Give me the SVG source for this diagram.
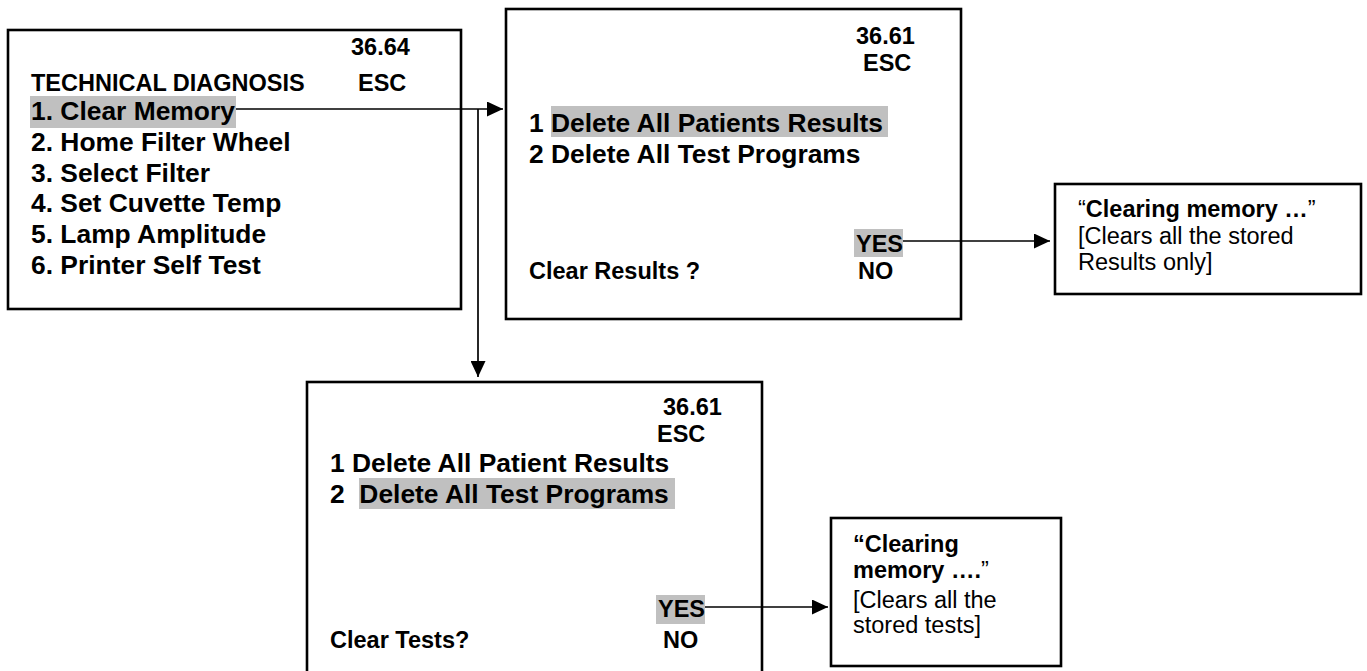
<svg xmlns="http://www.w3.org/2000/svg" width="1367" height="671" viewBox="0 0 1367 671">
  <style>
    .box { fill: #ffffff; stroke: #000000; stroke-width: 2.6; }
    .hl { fill: #c0c0c0; stroke: none; }
    .t { font-family: "Liberation Sans", Arial, Helvetica, sans-serif; fill: #000000; }
    .b { font-weight: bold; }
    .item { font-size: 26.4px; }
    .small { font-size: 23.5px; }
    .link { fill: none; stroke: #000000; stroke-width: 1.7; }
  </style>
  <defs>
    <marker id="arrow" viewBox="0 0 16 15" refX="16" refY="7.5" markerWidth="16" markerHeight="15" markerUnits="userSpaceOnUse" orient="auto">
      <path d="M0,0 L16,7.5 L0,15 Z" fill="#000000"/>
    </marker>
  </defs>

  <rect width="1367" height="671" fill="#ffffff"/>

  <!-- Main menu -->
  <g id="menu-technical-diagnosis">
    <rect class="box" x="8" y="30" width="453" height="279"/>
    <rect class="hl" x="30" y="96" width="206" height="32"/>
    <text class="t b small" x="351" y="55">36.64</text>
    <text class="t b small" x="31" y="91">TECHNICAL DIAGNOSIS</text>
    <text class="t b small" x="358" y="91">ESC</text>
    <text class="t b item" x="31" y="120">1. Clear Memory</text>
    <text class="t b item" x="31" y="151">2. Home Filter Wheel</text>
    <text class="t b item" x="31" y="182">3. Select Filter</text>
    <text class="t b item" x="31" y="212">4. Set Cuvette Temp</text>
    <text class="t b item" x="31" y="243">5. Lamp Amplitude</text>
    <text class="t b item" x="31" y="274">6. Printer Self Test</text>
  </g>

  <!-- Clear results screen -->
  <g id="screen-clear-results">
    <rect class="box" x="506" y="9" width="455" height="310"/>
    <rect class="hl" x="551" y="106" width="337" height="31"/>
    <rect class="hl" x="854" y="229" width="49" height="28"/>
    <text class="t b small" x="856" y="44">36.61</text>
    <text class="t b small" x="863" y="71">ESC</text>
    <text class="t b item" x="529" y="132">1 Delete All Patients Results</text>
    <text class="t b item" x="529" y="163">2 Delete All Test Programs</text>
    <text class="t b small" x="856" y="252">YES</text>
    <text class="t b small" x="529" y="279">Clear Results ?</text>
    <text class="t b small" x="858" y="279">NO</text>
  </g>

  <!-- Result message: results cleared -->
  <g id="msg-results-cleared">
    <rect class="box" x="1055" y="184" width="306" height="110"/>
    <text class="t small" x="1078" y="217">“<tspan class="b">Clearing memory …</tspan>”</text>
    <text class="t small" x="1078" y="244">[Clears all the stored</text>
    <text class="t small" x="1078" y="270">Results only]</text>
  </g>

  <!-- Clear tests screen -->
  <g id="screen-clear-tests">
    <rect class="box" x="307" y="382" width="455" height="320"/>
    <rect class="hl" x="359" y="478" width="316" height="31"/>
    <rect class="hl" x="656" y="595" width="49" height="29"/>
    <text class="t b small" x="663" y="415">36.61</text>
    <text class="t b small" x="657" y="442">ESC</text>
    <text class="t b item" x="330" y="472">1 Delete All Patient Results</text>
    <text class="t b item" x="330" y="503" xml:space="preserve">2  Delete All Test Programs</text>
    <text class="t b small" x="658" y="617">YES</text>
    <text class="t b small" x="330" y="648">Clear Tests?</text>
    <text class="t b small" x="663" y="648">NO</text>
  </g>

  <!-- Result message: tests cleared -->
  <g id="msg-tests-cleared">
    <rect class="box" x="831" y="518" width="230" height="148"/>
    <text class="t small b" x="853" y="552">“Clearing</text>
    <text class="t small" x="853" y="578"><tspan class="b">memory ….</tspan>”</text>
    <text class="t small" x="853" y="608">[Clears all the</text>
    <text class="t small" x="853" y="633">stored tests]</text>
  </g>

  <!-- Connectors -->
  <g id="connectors">
    <path class="link" d="M236,109 H503" marker-end="url(#arrow)"/>
    <path class="link" d="M478,109 V377" marker-end="url(#arrow)"/>
    <path class="link" d="M903,241 H1050" marker-end="url(#arrow)"/>
    <path class="link" d="M705,607 H828" marker-end="url(#arrow)"/>
  </g>
</svg>
